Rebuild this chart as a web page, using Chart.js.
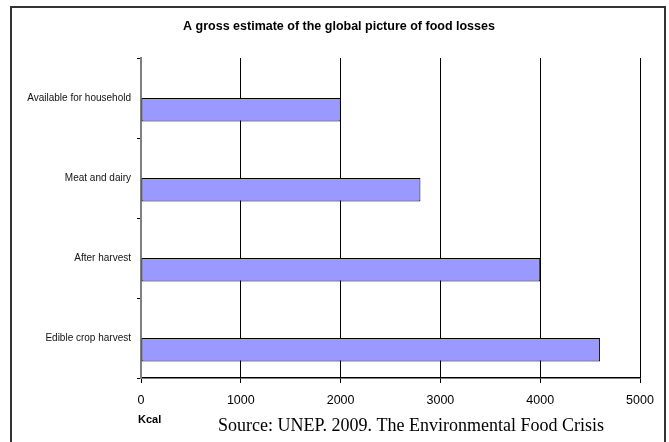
<!DOCTYPE html>
<html>
<head>
<meta charset="utf-8">
<script src="https://cdn.jsdelivr.net/npm/chart.js@4"></script>
<style>
  html, body { margin: 0; padding: 0; background: #fff; }
  #wrap { width: 669px; height: 442px; }
</style>
</head>
<body>
<div id="wrap"><canvas id="c" width="669" height="442"></canvas></div>
<script>
// Food energy remaining at each stage of the chain (Kcal per person per day)
const categories = ['Available for household', 'Meat and dairy', 'After harvest', 'Edible crop harvest'];
const kcalValues = [2000, 2800, 4000, 4600];
// empty companion series: keeps each bar in the lower half of its band
const spacerValues = [null, null, null, null];
const xTicks = [0, 1000, 2000, 3000, 4000, 5000];
const chartTitle = 'A gross estimate of the global picture of food losses';
const unitLabel = 'Kcal';
const sourceNote = 'Source: UNEP. 2009. The Environmental Food Crisis';

const SANS = '"Liberation Sans", Arial, sans-serif';
const SERIF = '"Liberation Serif", "Times New Roman", serif';

const decorations = {
  id: 'decorations',
  beforeDraw(chart) {
    const ctx = chart.ctx;
    ctx.save();
    ctx.fillStyle = '#fff';
    ctx.fillRect(0, 0, chart.width, chart.height);
    ctx.restore();
  },
  afterDraw(chart) {
    const ctx = chart.ctx;
    ctx.save();
    // outer frame (open at the bottom edge)
    ctx.strokeStyle = '#333';
    ctx.lineWidth = 2;
    ctx.beginPath();
    ctx.moveTo(11, 460);
    ctx.lineTo(11, 7);
    ctx.lineTo(665, 7);
    ctx.lineTo(665, 460);
    ctx.stroke();

    // title
    ctx.fillStyle = '#000';
    ctx.textAlign = 'center';
    ctx.textBaseline = 'middle';
    ctx.font = 'bold 12.5px ' + SANS;
    ctx.fillText(chartTitle, 339, 27);

    // unit label under the axis
    ctx.textAlign = 'left';
    ctx.font = 'bold 11px ' + SANS;
    ctx.fillText(unitLabel, 138, 420);

    // source note
    ctx.font = '18px ' + SERIF;
    ctx.fillText(sourceNote, 218, 426);
    ctx.restore();
  }
};

new Chart(document.getElementById('c'), {
  type: 'bar',
  data: {
    labels: categories,
    datasets: [
      {
        label: '',
        data: spacerValues,
        backgroundColor: 'rgba(0,0,0,0)',
        borderWidth: 0
      },
      {
        label: 'Kcal',
        data: kcalValues,
        backgroundColor: '#9999ff',
        borderColor: '#000',
        borderWidth: 1,
        borderSkipped: false
      }
    ]
  },
  options: {
    indexAxis: 'y',
    responsive: false,
    animation: false,
    devicePixelRatio: 1,
    categoryPercentage: 0.585,
    barPercentage: 1.0,
    layout: { padding: { top: 58, right: 29, left: 0, bottom: 0 } },
    plugins: {
      legend: { display: false },
      tooltip: { enabled: false },
      title: { display: false }
    },
    scales: {
      x: {
        type: 'linear',
        position: 'bottom',
        min: 0,
        max: 5000,
        afterBuildTicks(scale) { scale.ticks = xTicks.map(v => ({ value: v })); },
        afterFit(scale) { scale.height = 64; },
        grid: {
          color: '#000',
          lineWidth: 1,
          drawOnChartArea: true,
          drawTicks: true,
          tickLength: 5
        },
        border: { display: true, color: '#000', width: 1.5 },
        ticks: {
          color: '#000',
          font: { family: SANS, size: 12.5 },
          padding: 10,
          maxRotation: 0,
          autoSkip: false,
          callback: (v) => String(v)
        }
      },
      y: {
        type: 'category',
        position: 'left',
        afterFit(scale) { scale.width = 141; },
        grid: {
          offset: true,
          drawOnChartArea: false,
          drawTicks: true,
          tickLength: 4,
          color: '#000',
          lineWidth: 1
        },
        border: { display: true, color: '#808080', width: 2 },
        ticks: {
          color: '#111',
          font: { family: SANS, size: 10 },
          padding: 6,
          autoSkip: false
        }
      }
    }
  },
  plugins: [decorations]
});
</script>
</body>
</html>
